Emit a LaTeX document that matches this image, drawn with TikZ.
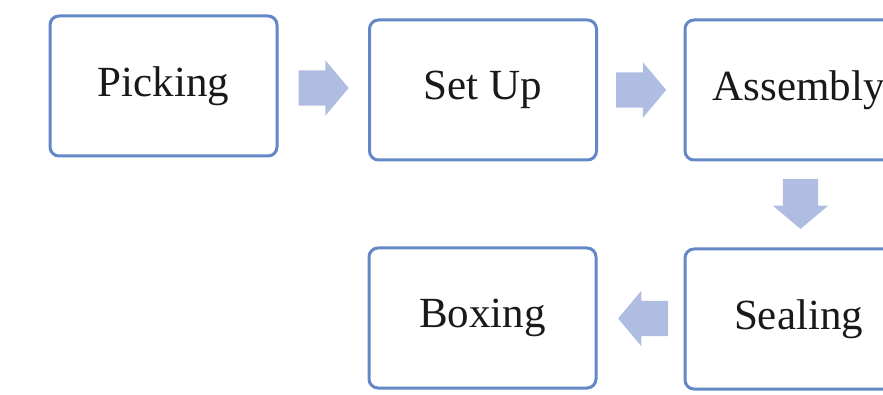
\documentclass[tikz,border=0pt]{standalone}
\usepackage{fontspec}
\setmainfont{Liberation Serif}
\usetikzlibrary{shapes.arrows,calc}
\definecolor{boxline}{HTML}{6488C6}
\definecolor{arrowfill}{HTML}{AFBDE2}
\begin{document}
\begin{tikzpicture}[x=1pt,y=-1pt,
  stepbox/.style={draw=boxline,line width=3pt,rounded corners=9pt,fill=white,
    minimum width=227pt,minimum height=140pt,inner sep=0pt,
    font=\fontsize{43}{50}\selectfont,text=black!90},
  blockarrow/.style={single arrow,fill=arrowfill,draw=none,
    minimum height=50pt,inner xsep=0pt,inner ysep=17.5pt,
    single arrow head extend=10pt,single arrow tip angle=100,
    single arrow head indent=0pt}]
\useasboundingbox (0,0) rectangle (883,395);
\begin{scope}
\clip (0,0) rectangle (883,395);
\node[stepbox] (pick) at (163.5,86) {Picking};
\node[stepbox] (setup) at (483,90) {Set Up};
\node[stepbox] (assembly) at (798.5,90) {Assembly};
\node[stepbox] (sealing) at (798.5,319) {Sealing};
\node[stepbox] (boxing) at (482.5,318) {Boxing};
\node[blockarrow,xshift=-7pt] (a1) at ($(pick.east)!0.5!(setup.west)$) {};
\node[blockarrow,xshift=-7pt] (a2) at ($(setup.east)!0.5!(assembly.west)$) {};
\node[blockarrow,rotate=-90,xshift=-7pt] (a3) at ($(assembly.south)!0.5!(sealing.north)+(2,-1)$) {};
\node[blockarrow,rotate=180,xshift=-7pt] (a4) at ($(sealing.west)!0.5!(boxing.east)+(3,0)$) {};
\end{scope}
\end{tikzpicture}
\end{document}
